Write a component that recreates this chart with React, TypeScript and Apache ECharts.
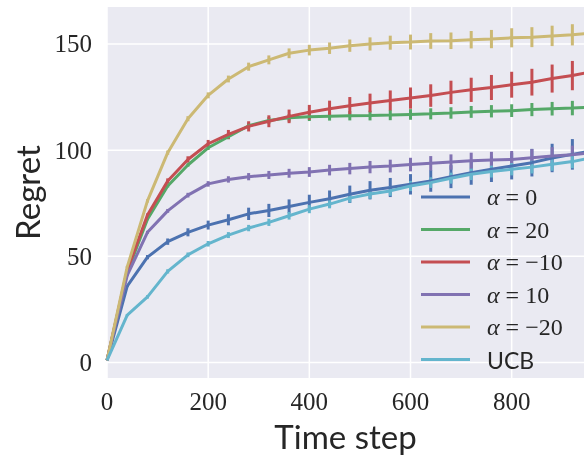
import React, { useEffect, useRef } from "react";
import * as echarts from "echarts";

const T = [0, 40, 80, 120, 160, 200, 240, 280, 320, 360, 400, 440, 480, 520, 560, 600, 640, 680, 720, 760, 800, 840, 880, 920, 960];

const NAMES = ["α = 0", "α = 20", "α = −10", "α = 10", "α = −20", "UCB"];
const COLORS = ["#4C72B0", "#55A868", "#C44E52", "#8172B2", "#CCB974", "#64B5CD"];

const alpha0 = [1, 36, 49.6, 56.9, 61.3, 64.7, 67.2, 70.0, 71.6, 73.5, 75.4, 77.1, 79.2, 81.1, 82.4, 83.9, 85.5, 87.5, 89.4, 91, 92.5, 94.1, 96.3, 98, 99.8];
const alpha0Err = [0, 0.5, 1, 1.5, 1.9, 2.1, 2.6, 2.9, 3.1, 3.3, 3.6, 3.9, 4.1, 4.3, 4.5, 4.8, 5.1, 5.4, 5.7, 6, 6.3, 6.5, 6.7, 7.2, 7.4];

const alpha20 = [1, 42.5, 67.5, 83.1, 93, 101.1, 106.3, 111.5, 114, 115.2, 115.7, 116, 116.2, 116.3, 116.5, 116.8, 117.1, 117.5, 118, 118.3, 118.6, 119.1, 119.5, 119.8, 120.2];
const alpha20Err = [0, 0.3, 0.5, 0.7, 0.8, 1, 1.2, 1.4, 1.6, 1.8, 2, 2.1, 2.2, 2.3, 2.4, 2.5, 2.6, 2.7, 2.8, 2.9, 3, 3.1, 3.2, 3.4, 3.5];

const alphaM10 = [1, 43.5, 69.4, 85.5, 95.6, 103, 107.4, 111.2, 113.6, 115.9, 117.8, 119.5, 120.9, 122.2, 123.4, 124.5, 125.7, 127.2, 128.4, 129.5, 130.8, 132, 133.7, 135.1, 137];
const alphaM10Err = [0, 0.5, 0.8, 1.2, 1.5, 1.8, 2.1, 2.4, 2.8, 3.2, 3.5, 3.8, 4.1, 4.4, 4.7, 5.0, 5.3, 5.5, 5.7, 5.9, 6.1, 6.3, 6.6, 6.9, 7.1];

const alpha10 = [1, 41, 61.3, 71.4, 78.8, 84.1, 86.2, 87.5, 88.3, 89.1, 89.7, 90.6, 91.3, 92, 92.5, 93.2, 93.8, 94.4, 95, 95.3, 95.6, 96.4, 97.2, 97.8, 98.8];
const alpha10Err = [0, 0.4, 0.7, 0.9, 1.1, 1.3, 1.5, 1.7, 1.9, 2.1, 2.3, 2.5, 2.7, 2.9, 3.0, 3.2, 3.4, 3.6, 3.8, 3.9, 4.0, 4.1, 4.2, 4.3, 4.4];

const alphaM20 = [1, 45, 76.1, 98.8, 114.8, 125.8, 133.5, 139.3, 142.5, 145.6, 147.1, 148, 149.2, 150, 150.6, 150.9, 151.4, 151.5, 152, 152.3, 152.9, 153.2, 153.8, 154.3, 155.2];
const alphaM20Err = [0, 0.5, 0.8, 1, 1.2, 1.4, 1.6, 1.9, 2.1, 2.3, 2.5, 2.7, 2.9, 3.1, 3.3, 3.5, 3.7, 3.9, 4.1, 4.3, 4.5, 4.7, 4.8, 5.0, 5.1];

const ucb = [1, 22.3, 30.9, 42.9, 50.7, 55.9, 60, 63.3, 66, 69.1, 72.2, 74.6, 77.4, 79.3, 80.8, 83.1, 84.7, 86.8, 88.6, 89.9, 91, 92, 93.3, 94.6, 96.5];
const ucbErr = [0, 0.5, 0.8, 1, 1.1, 1.3, 1.4, 1.5, 1.7, 1.8, 1.9, 2, 2.1, 2.2, 2.3, 2.4, 2.5, 2.6, 2.7, 2.8, 2.9, 3, 3, 3.1, 3.2];

const MEANS = [alpha0, alpha20, alphaM10, alpha10, alphaM20, ucb];
const ERRS = [alpha0Err, alpha20Err, alphaM10Err, alpha10Err, alphaM20Err, ucbErr];

const X_TICKS = [0, 200, 400, 600, 800];
const Y_TICKS = [0, 50, 100, 150];

const TEXT = "#262626";
const SERIF = "'Liberation Serif', 'DejaVu Serif', serif";
const SANS = "Lato, 'Open Sans', 'DejaVu Sans', sans-serif";

export default function App() {
  const ref = useRef<HTMLDivElement>(null);

  useEffect(() => {
    if (!ref.current) return;
    const chart = echarts.init(ref.current, undefined, { renderer: "svg" });

    const series: any[] = [];
    // white gridlines, drawn under the data
    series.push({
      type: "custom",
      name: "__gridx",
      z: 1,
      silent: true,
      clip: false,
      data: X_TICKS.map((v) => [v]),
      encode: { x: 0 },
      renderItem: (params: any, api: any) => {
        const cs = params.coordSys;
        const p = api.coord([api.value(0), 0]);
        return {
          type: "line",
          shape: { x1: p[0], y1: cs.y, x2: p[0], y2: cs.y + cs.height },
          style: { stroke: "#ffffff", lineWidth: 1.5 },
        };
      },
    });
    series.push({
      type: "custom",
      name: "__gridy",
      z: 1,
      silent: true,
      clip: false,
      data: Y_TICKS.map((v) => [0, v]),
      encode: { x: 0, y: 1 },
      renderItem: (params: any, api: any) => {
        const cs = params.coordSys;
        const p = api.coord([0, api.value(1)]);
        return {
          type: "line",
          shape: { x1: cs.x, y1: p[1], x2: cs.x + cs.width, y2: p[1] },
          style: { stroke: "#ffffff", lineWidth: 1.5 },
        };
      },
    });

    NAMES.forEach((name, i) => {
      const color = COLORS[i];
      series.push({
        type: "line",
        name,
        z: 2,
        symbol: "none",
        clip: true,
        color,
        lineStyle: { width: 3, color },
        data: T.map((t, k) => [t, MEANS[i][k]]),
      });
      series.push({
        type: "custom",
        name,
        z: 2,
        clip: true,
        silent: true,
        data: T.map((t, k) => [t, MEANS[i][k] - ERRS[i][k], MEANS[i][k] + ERRS[i][k]]),
        encode: { x: 0, y: [1, 2] },
        renderItem: (params: any, api: any) => {
          const x = api.value(0);
          const p1 = api.coord([x, api.value(1)]);
          const p2 = api.coord([x, api.value(2)]);
          return {
            type: "line",
            shape: { x1: p1[0], y1: p1[1], x2: p2[0], y2: p2[1] },
            style: { stroke: color, lineWidth: 3 },
          };
        },
      });
    });

    chart.setOption({
      animation: false,
      grid: {
        left: 107,
        right: 0,
        top: 7,
        bottom: 77,
        show: true,
        backgroundColor: "#EAEAF2",
        borderWidth: 0,
      },
      xAxis: {
        type: "value",
        min: 0,
        max: 943,
        name: "Time step",
        nameLocation: "middle",
        nameGap: 36,
        nameTextStyle: { fontFamily: SANS, fontSize: 33, color: TEXT },
        axisLine: { show: false },
        axisTick: { show: false },
        splitLine: { show: false },
        axisLabel: {
          customValues: X_TICKS,
          fontFamily: SERIF,
          fontSize: 25,
          color: TEXT,
          margin: 11,
        },
      },
      yAxis: {
        type: "value",
        min: -7.35,
        max: 167.4,
        name: "Regret",
        nameLocation: "middle",
        nameGap: 58,
        nameTextStyle: { fontFamily: SANS, fontSize: 33, color: TEXT },
        axisLine: { show: false },
        axisTick: { show: false },
        splitLine: { show: false },
        axisLabel: {
          customValues: Y_TICKS,
          fontFamily: SERIF,
          fontSize: 25,
          color: TEXT,
          margin: 15,
        },
      },
      legend: {
        data: NAMES.map((n) => ({ name: n, icon: "rect" })),
        orient: "vertical",
        left: 421,
        top: 185,
        itemWidth: 49,
        itemHeight: 3,
        itemGap: 8.5,
        padding: 0,
        selectedMode: false,
        formatter: (name: string) =>
          name.startsWith("α") ? `{a|α}{b|${name.slice(1)}}` : `{u|${name}}`,
        textStyle: {
          color: TEXT,
          fontSize: 23,
          lineHeight: 24,
          padding: [0, 0, 0, 12],
          rich: {
            a: { fontFamily: SERIF, fontStyle: "italic", fontSize: 24, color: TEXT, lineHeight: 24 },
            b: { fontFamily: SERIF, fontSize: 24, color: TEXT, lineHeight: 24 },
            u: { fontFamily: SANS, fontSize: 23, color: TEXT, lineHeight: 24 },
          },
        },
      },
      series,
    });

    return () => chart.dispose();
  }, []);

  return (
    <div
      ref={ref}
      style={{ position: "fixed", left: 0, top: 0, width: 584, height: 457 }}
    />
  );
}
